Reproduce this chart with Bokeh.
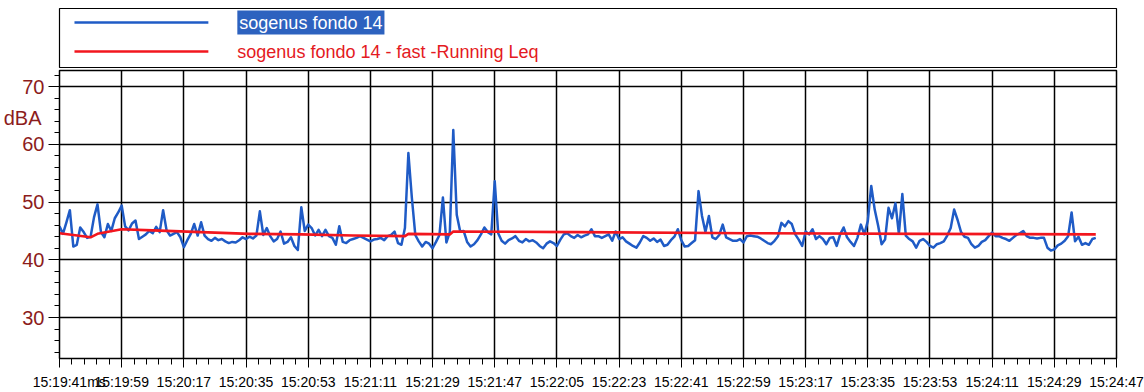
import numpy as np
from bokeh.plotting import figure
from bokeh.models import Range1d, FixedTicker, Label, ColumnDataSource, LinearAxis
from bokeh.layouts import column
from bokeh.embed import file_html
from bokeh.resources import INLINE

# Sound level (dBA), one reading per second starting at 15:19:41
level_db = [
    45.8, 44.5, 46.5, 48.6, 42.3, 42.6, 45.6, 44.8, 43.8, 44.0,
    47.4, 49.6, 44.8, 43.9, 46.2, 45.0, 47.2, 48.2, 49.4, 45.8,
    45.1, 46.3, 46.8, 43.6, 44.0, 44.4, 45.0, 44.6, 45.7, 44.8,
    48.6, 45.1, 44.2, 44.5, 44.8, 43.9, 42.2, 43.4, 44.5, 46.2,
    44.2, 46.5, 44.2, 43.6, 43.3, 43.8, 43.4, 43.6, 43.2, 42.9,
    43.1, 43.0, 43.4, 43.9, 43.6, 44.0, 43.7, 44.2, 48.4, 44.3,
    45.5, 44.1, 43.2, 43.6, 44.9, 42.8, 43.1, 43.9, 42.4, 41.7,
    49.1, 45.0, 46.1, 45.5, 44.2, 45.2, 44.1, 45.2, 44.1, 43.8,
    42.6, 45.8, 43.1, 42.9, 43.4, 43.6, 43.8, 44.1, 43.8, 43.5,
    43.2, 43.5, 43.6, 43.8, 43.4, 44.1, 44.3, 44.9, 42.9, 42.6,
    45.5, 58.5, 50.8, 44.3, 43.2, 42.3, 43.1, 42.8, 42.0, 43.1,
    44.3, 50.8, 43.0, 44.8, 62.5, 47.8, 44.9, 45.0, 43.1, 42.3,
    42.7, 43.4, 44.4, 45.6, 44.8, 44.4, 53.6, 44.6, 43.3, 42.8,
    43.4, 43.7, 44.1, 43.3, 43.0, 43.6, 43.2, 43.4, 43.0, 42.4,
    42.0, 42.8, 43.2, 42.9, 42.4, 43.5, 44.4, 44.6, 44.1, 43.8,
    44.3, 43.9, 44.2, 44.4, 45.3, 44.1, 44.1, 43.8, 44.1, 44.4,
    43.3, 44.9, 43.6, 43.9, 43.2, 42.8, 42.4, 42.1, 43.0, 44.1,
    43.8, 43.3, 43.7, 43.1, 43.5, 42.4, 42.6, 43.4, 44.0, 45.3,
    43.4, 42.3, 42.4, 42.9, 43.4, 51.9, 47.6, 44.8, 47.6, 43.9,
    43.6, 44.3, 46.1, 43.9, 43.6, 43.3, 43.3, 43.6, 43.0, 44.1,
    44.2, 44.1, 44.0, 43.7, 43.3, 42.9, 42.7, 43.3, 44.1, 46.4,
    45.8, 46.7, 46.2, 44.4, 43.5, 42.4, 44.9, 44.4, 45.3, 43.6,
    44.1, 43.6, 42.7, 43.8, 43.9, 42.4, 44.4, 45.6, 43.9, 43.1,
    42.4, 43.8, 46.1, 44.4, 46.7, 52.8, 48.7, 45.9, 42.7, 43.5,
    49.0, 47.2, 49.8, 44.5, 51.4, 44.2, 43.6, 43.2, 42.1, 43.3,
    43.6, 43.1, 42.4, 42.1, 42.7, 42.9, 43.2, 44.2, 45.5, 48.7,
    46.9, 44.8, 44.0, 43.8, 42.7, 42.1, 42.4, 43.1, 43.4, 44.1,
    44.7, 44.1, 44.1, 43.8, 43.6, 43.3, 43.8, 44.3, 44.6, 45.0,
    44.1, 43.8, 43.8, 43.7, 43.8, 43.8, 42.1, 41.6, 41.8, 42.5,
    42.8, 43.3, 44.1, 48.2, 43.2, 44.0, 42.6, 42.9, 42.6, 43.6,
    43.8,
]

# Running Leq (fast), seconds since start and level
leq_t = [0, 4, 9, 11, 18, 27, 41, 55, 70, 85, 100, 101, 113, 114, 150, 200, 250, 300]
leq_db = [44.6, 44.3, 43.9, 44.5, 45.3, 45.1, 44.8, 44.5, 44.4, 44.2, 44.1, 44.5,
          44.4, 44.9, 44.8, 44.6, 44.5, 44.4]

tick_labels = ["15:19:41", "15:19:59", "15:20:17", "15:20:35", "15:20:53", "15:21:11",
               "15:21:29", "15:21:47", "15:22:05", "15:22:23", "15:22:41", "15:22:59",
               "15:23:17", "15:23:35", "15:23:53", "15:24:11", "15:24:29", "15:24:47"]
tick_step = 18          # seconds between labelled ticks
time_unit = "ms"
y_major = [30, 40, 50, 60, 70]
y_minor = list(range(24, 73, 2))
unit_pos = 64.6         # height of the dBA caption on the level scale

series_name = "sogenus fondo 14"
leq_name = "sogenus fondo 14 - fast -Running Leq"

BLUE = "#1f5bc6"
RED = "#f2161e"
MAROON = "#8c1c1c"
FONT = "Liberation Sans"

x_major = [i * tick_step for i in range(len(tick_labels))]
x_minor = list(np.arange(0, x_major[-1] + 0.01, tick_step / 5))

src = ColumnDataSource(dict(t=np.arange(len(level_db)), db=level_db))
leq_src = ColumnDataSource(dict(t=leq_t, db=leq_db))

# ---- main chart ----
p = figure(width=1144, height=324, x_range=Range1d(0, x_major[-1]),
           y_range=Range1d(22.9, 72.8), output_backend="svg", toolbar_location=None,
           min_border_left=58, min_border_right=26, min_border_top=2, min_border_bottom=34)
p.background_fill_color = "white"
p.border_fill_color = "white"
p.outline_line_color = "black"
p.outline_line_width = 1.5

p.line("t", "db", source=src, line_color=BLUE, line_width=2.5, line_join="round")
p.line("t", "db", source=leq_src, line_color=RED, line_width=2.6, line_join="round")

# first time label carries the unit, padded so the time itself stays centred
x_text = {x: lab for x, lab in zip(x_major, tick_labels)}
x_text[x_major[0]] = "\u00a0" * 5 + tick_labels[0] + time_unit

xa = p.xaxis[0]
xa.ticker = FixedTicker(ticks=x_major, minor_ticks=x_minor)
xa.major_label_overrides = x_text
xa.major_label_text_font = FONT
xa.major_label_text_font_size = "14px"
xa.major_label_text_color = "black"
xa.major_label_standoff = 6
xa.major_tick_out = 9
xa.major_tick_in = 0
xa.minor_tick_out = 6
xa.minor_tick_in = 0
xa.axis_line_color = "black"
xa.major_tick_line_color = "black"
xa.minor_tick_line_color = "black"

ya = p.yaxis[0]
ya.ticker = FixedTicker(ticks=y_major, minor_ticks=y_minor)
ya.major_label_text_font = FONT
ya.major_label_text_font_size = "20px"
ya.major_label_text_color = MAROON
ya.major_label_standoff = 4
ya.major_tick_out = 11
ya.major_tick_in = 0
ya.minor_tick_out = 5
ya.minor_tick_in = 0
ya.axis_line_color = "black"
ya.major_tick_line_color = "black"
ya.minor_tick_line_color = "black"

# unit caption, set in the tick-label column just under 70
unit_axis = LinearAxis(ticker=FixedTicker(ticks=[unit_pos]),
                       major_label_overrides={unit_pos: "dBA"})
unit_axis.axis_line_color = None
unit_axis.major_tick_line_color = None
unit_axis.minor_tick_line_color = None
unit_axis.major_tick_out = 0
unit_axis.major_tick_in = 0
unit_axis.major_label_standoff = -22
unit_axis.major_label_text_font = FONT
unit_axis.major_label_text_font_size = "20px"
unit_axis.major_label_text_color = MAROON
p.add_layout(unit_axis, "left")

p.xgrid.ticker = FixedTicker(ticks=x_major)
p.ygrid.ticker = FixedTicker(ticks=y_major)
for g in (p.xgrid, p.ygrid):
    g.grid_line_color = "black"
    g.grid_line_width = 1.5

# ---- legend strip ----
lg = figure(width=1144, height=68, x_range=Range1d(0, 1058), y_range=Range1d(0, 59),
            x_axis_type=None, y_axis_type=None, output_backend="svg",
            toolbar_location=None, min_border_left=58, min_border_right=28,
            min_border_top=8, min_border_bottom=1)
lg.grid.visible = False
lg.background_fill_color = "white"
lg.border_fill_color = "white"
lg.outline_line_color = "black"
lg.outline_line_width = 1.2

lg.segment(x0=[15], y0=[45], x1=[149], y1=[45], line_color=BLUE, line_width=2.4)
lg.segment(x0=[15], y0=[16], x1=[149], y1=[16], line_color=RED, line_width=2.6)
lg.add_layout(Label(x=178, y=45, text=series_name, text_baseline="middle",
                    text_font=FONT, text_font_size="18px", text_color="white",
                    background_fill_color="#2d62bf", padding=2))
lg.add_layout(Label(x=178, y=16, text=leq_name, text_baseline="middle",
                    text_font=FONT, text_font_size="18px", text_color="#e41a22"))

layout = column(lg, p, spacing=0)
open("out.html", "w").write(file_html(layout, INLINE))
